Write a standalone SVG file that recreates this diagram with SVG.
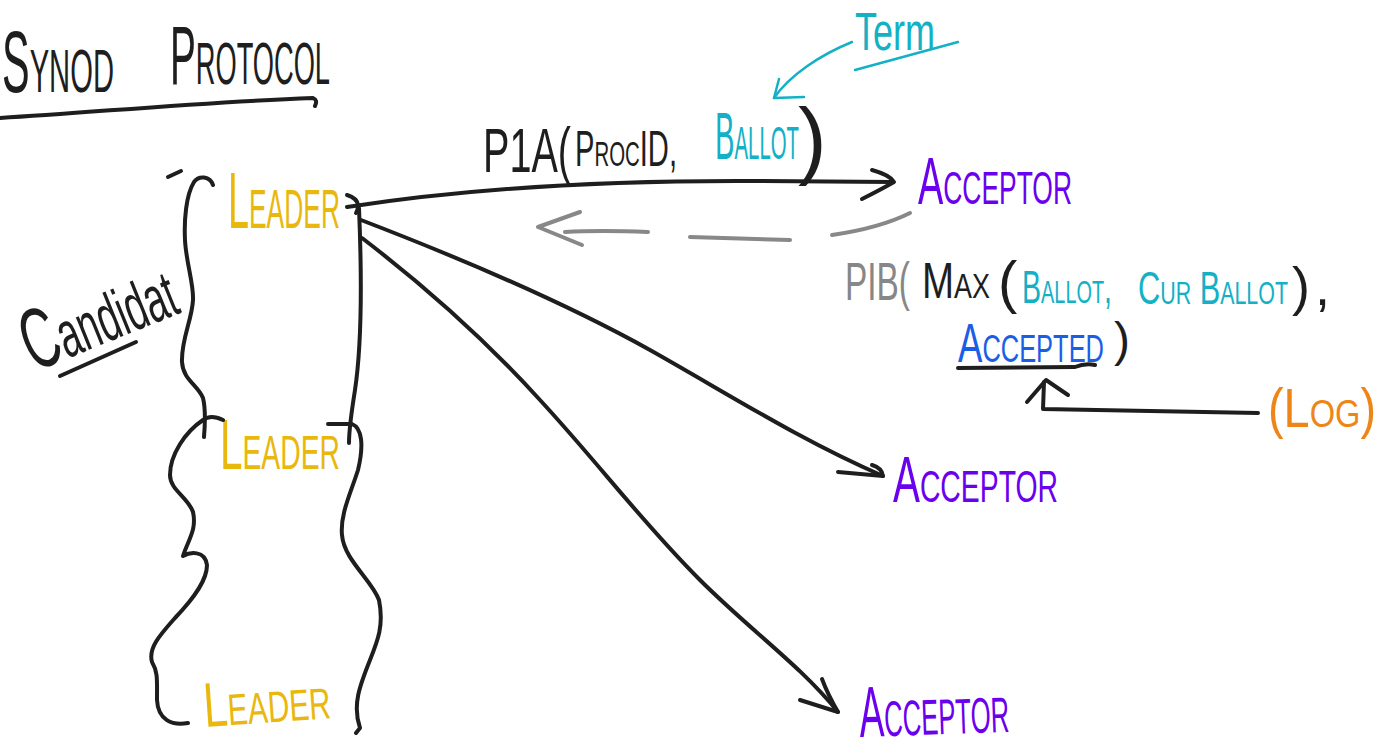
<svg xmlns="http://www.w3.org/2000/svg" width="1397" height="755" viewBox="0 0 1397 755">
<style>
.t{font-family:"Liberation Sans",Arial,sans-serif;}
.sc{font-variant:small-caps;}
.k{fill:#1e1e1e;}
.y{fill:#e9b80f;}
.p{fill:#6a00ee;}
.c{fill:#14b0c6;}
.g{fill:#878787;}
.b{fill:#1b5ee6;}
.o{fill:#ef8519;}
.ln{fill:none;stroke:#1e1e1e;stroke-width:4;stroke-linecap:round;stroke-linejoin:round;}
.lg{fill:none;stroke:#888888;stroke-width:4;stroke-linecap:round;stroke-linejoin:round;}
.lc{fill:none;stroke:#14b0c6;stroke-width:2.5;stroke-linecap:round;stroke-linejoin:round;}
</style>
<rect width="1397" height="755" fill="#ffffff"/>

<g id="title">
<text class="t sc k" x="2" y="92" font-size="88" textLength="112" lengthAdjust="spacingAndGlyphs">Synod</text>
<text class="t sc k" x="170" y="84" font-size="84" textLength="160" lengthAdjust="spacingAndGlyphs">Protocol</text>
<path class="ln" d="M0,118 C100,112 200,102 313,98 Q318,100 315,106"/>
</g>

<g id="candidate">
<text class="t k" x="34" y="372" font-size="66" textLength="160" lengthAdjust="spacingAndGlyphs" transform="rotate(-22 34 372)"><tspan font-size="86">C</tspan>andidat</text>
<path class="ln" d="M60,376 L136,342"/>
</g>

<g id="leader1"><text class="t sc y" x="228" y="228" font-size="80" textLength="112" lengthAdjust="spacingAndGlyphs">Leader</text></g>
<g id="leader2"><text class="t sc y" x="220" y="469" font-size="70" textLength="120" lengthAdjust="spacingAndGlyphs">Leader</text></g>
<g id="leader3"><text class="t sc y" x="205" y="727" font-size="63" textLength="127" lengthAdjust="spacingAndGlyphs" transform="rotate(-4 205 727)">Leader</text></g>

<g id="acceptor1"><text class="t sc p" x="918" y="204" font-size="66" textLength="154" lengthAdjust="spacingAndGlyphs">Acceptor</text></g>
<g id="acceptor2"><text class="t sc p" x="893" y="502" font-size="64" textLength="165" lengthAdjust="spacingAndGlyphs">Acceptor</text></g>
<g id="acceptor3"><text class="t sc p" x="860" y="737" font-size="72" textLength="150" lengthAdjust="spacingAndGlyphs" transform="rotate(-2 860 737)">Acceptor</text></g>

<g id="p1a">
<text class="t sc"><tspan class="k" x="483" y="172" font-size="63" textLength="88" lengthAdjust="spacingAndGlyphs">P1A(</tspan><tspan class="k" x="575" y="166" font-size="50" textLength="102" lengthAdjust="spacingAndGlyphs">ProcID,</tspan><tspan class="c" x="715" y="159" font-size="66" textLength="84" lengthAdjust="spacingAndGlyphs">Ballot</tspan><tspan class="k" x="798" y="168" font-size="86">)</tspan></text>
</g>

<g id="term">
<text class="t c" x="855" y="50" font-size="54" textLength="80" lengthAdjust="spacingAndGlyphs">Term</text>
<path class="lc" d="M855,70 L958,42"/>
</g>

<g id="p1b">
<text class="t sc"><tspan class="g" x="845" y="300" font-size="53" textLength="65" lengthAdjust="spacingAndGlyphs">PIB(</tspan><tspan class="k" x="922" y="298" font-size="50" textLength="68" lengthAdjust="spacingAndGlyphs">Max</tspan><tspan class="k" x="998" y="302" font-size="58">(</tspan><tspan class="c" x="1022" y="303" font-size="46" textLength="90" lengthAdjust="spacingAndGlyphs">Ballot,</tspan><tspan class="c" x="1138" y="304" font-size="46" textLength="150" lengthAdjust="spacingAndGlyphs">Cur Ballot</tspan><tspan class="k" x="1292" y="305" font-size="54" textLength="38" lengthAdjust="spacing">),</tspan></text>
<text class="t sc"><tspan class="b" x="958" y="362" font-size="56" textLength="146" lengthAdjust="spacingAndGlyphs">Accepted</tspan><tspan class="k" x="1114" y="356" font-size="48">)</tspan></text>
<path class="ln" d="M958,368 L1075,367 Q1085,363 1095,365"/>
</g>

<g id="log"><text class="t sc o" x="1268" y="427" font-size="56" textLength="108" lengthAdjust="spacingAndGlyphs">(Log)</text></g>

<g id="braces">
<path class="ln" d="M168,177 L181,171"/>
<path class="ln" d="M213,185 C210,176 199,175 194,182 C186,195 184,220 185,240 C186,262 194,285 193,300 C192,320 181,340 182,362 C183,380 198,385 203,398 C206,410 205,425 204,437"/>
<path class="ln" d="M223,420 C215,416 208,416 203,420 C185,432 170,455 170,475 C170,490 188,497 193,512 C197,530 188,540 183,556 C190,552 205,550 207,565 C207,580 195,597 175,618 C160,635 148,648 152,662 C158,672 157,680 157,700 C158,720 172,726 188,723"/>
<path class="ln" d="M347,195 Q357,198 358,205 Q358,210 356,213"/>
<path class="ln" d="M359,208 C362,280 361,350 355,390 C351,415 349,430 349,443"/>
<path class="ln" d="M328,424 L352,424 C362,428 364,445 358,470 C350,495 340,515 342,535 C344,560 372,580 379,600 C384,625 378,640 370,660 C360,685 352,705 360,728 L356,733"/>
</g>

<g id="connectors">
<path class="ln" d="M347,207 C470,188 600,180 760,181 L893,182"/>
<path class="ln" d="M872,170 Q890,175 894,182 Q880,190 862,199"/>
<path class="ln" d="M361,220 C460,258 560,300 650,350 C730,395 800,440 883,476"/>
<path class="ln" d="M838,472 L883,476 M872,465 Q882,468 883,476"/>
<path class="ln" d="M362,238 C430,290 490,345 540,400 C600,465 640,520 700,580 C750,630 800,665 838,712"/>
<path class="ln" d="M800,700 L838,712 M822,679 Q828,695 838,712"/>
<path class="lg" d="M910,213 Q880,228 832,235"/>
<path class="lg" d="M690,237 L790,240"/>
<path class="lg" d="M565,232 Q600,230 648,232"/>
<path class="lg" d="M580,212 L538,227 L582,245"/>
<path class="lc" d="M852,42 C820,55 790,75 774,98"/>
<path class="lc" d="M779,79 L774,98 L804,97"/>
<path class="ln" d="M1258,413 L1150,411 L1043,409 L1044,382"/>
<path class="ln" d="M1027,402 L1046,380 L1068,395"/>
</g>
</svg>
